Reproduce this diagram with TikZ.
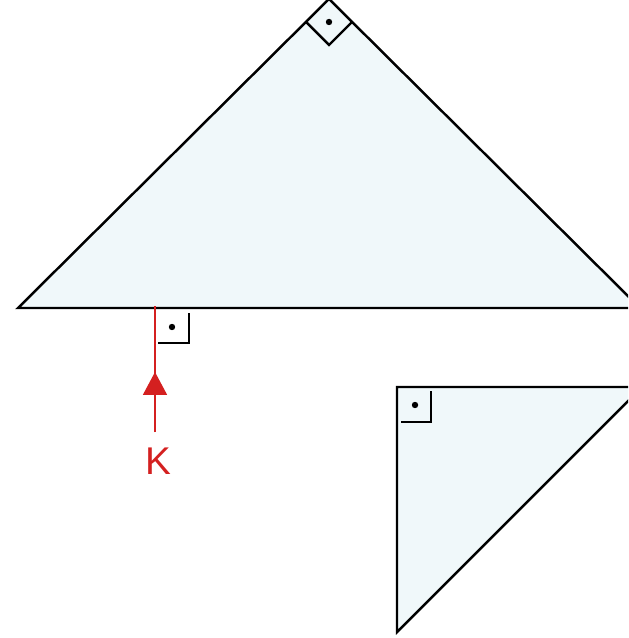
\documentclass[tikz,border=0pt]{standalone}
\usepackage{fontspec}
\setmainfont{Liberation Sans}
\usepackage{xcolor}
\usetikzlibrary{arrows.meta}
\definecolor{flaeche}{RGB}{240,248,250}
\definecolor{kraft}{RGB}{212,32,32}

\begin{document}
\begin{tikzpicture}[x=0.02cm, y=-0.02cm, line join=miter]
  \useasboundingbox (0,0) rectangle (628,638);
  \clip (0,0) rectangle (628,638);
  % grosses Dreieck
  \draw[line width=1.4pt, fill=flaeche] (18,308) -- (329,-1) -- (640,308) -- cycle;
  % rechter Winkel oben
  \draw[line width=1.4pt] (306,22) -- (329,45) -- (352,22);
  \fill (329,22) circle (3.2);
  % kleines Dreieck
  \draw[line width=1.4pt, fill=flaeche] (397,387) -- (642,387) -- (397,632) -- cycle;
  \draw[line width=1.4pt] (401,422) -- (431,422) -- (431,391);
  \fill (415,405) circle (3.2);
  % Lot mit Kraft K
  \coordinate (fuss) at (155,306);
  \coordinate (spitze) at (155,372);
  \node[text=kraft, font=\fontsize{22}{26}\selectfont] (k) at (158,461) {K};
  \coordinate (ende) at (155,432);
  \draw[kraft, line width=1.1pt] (ende) -- (fuss);
  \draw[kraft, line width=1.1pt, -{Triangle[length=0.46cm, width=0.48cm]}]
    (ende) -- (spitze);
  \draw[line width=1.4pt] (158,343) -- (189,343) -- (189,313);
  \fill (172,327) circle (3.2);
\end{tikzpicture}
\end{document}
